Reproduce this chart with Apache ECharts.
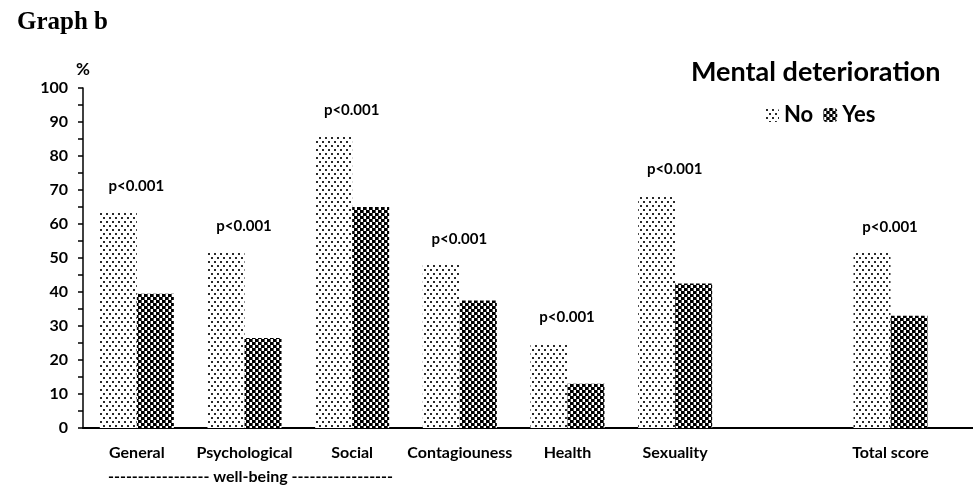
<!DOCTYPE html>
<html>
<head>
<meta charset="utf-8">
<script src="https://cdn.jsdelivr.net/npm/echarts@6/dist/echarts.min.js"></script>
<style>
  html, body { margin: 0; padding: 0; background: #fff; }
  #chart { width: 973px; height: 488px; }
</style>
</head>
<body>
<div id="chart"></div>
<script>
// categories (empty slots keep the gap before "Total score" and the axis running off the right edge)
const categories = ['General', 'Psychological', 'Social', 'Contagiouness', 'Health', 'Sexuality', '', 'Total score', ''];
const noValues = [63.5, 52, 86, 48, 25, 68.5, null, 51.5, null];
const yesValues = [39.5, 26.5, 65, 37.5, 13, 42.5, null, 33, null];
const pLabels = ['p<0.001', 'p<0.001', 'p<0.001', 'p<0.001', 'p<0.001', 'p<0.001', '', 'p<0.001', ''];

const FONT = 'Lato';

// pattern fills like the Excel ones
function dotPattern() {
  const c = document.createElement('canvas');
  c.width = 6; c.height = 8;
  const ctx = c.getContext('2d');
  ctx.fillStyle = '#fff';
  ctx.fillRect(0, 0, 6, 8);
  ctx.fillStyle = '#2a2a2a';
  ctx.fillRect(1, 1, 2, 2);
  ctx.fillRect(4, 5, 2, 2);
  return c;
}
function checkPattern() {
  const c = document.createElement('canvas');
  c.width = 6; c.height = 6;
  const ctx = c.getContext('2d');
  ctx.fillStyle = '#fff';
  ctx.fillRect(0, 0, 6, 6);
  ctx.fillStyle = '#000';
  ctx.fillRect(0, 0, 3, 3);
  ctx.fillRect(3, 3, 3, 3);
  ctx.fillStyle = '#555';
  ctx.fillRect(3, 0, 1, 3);
  ctx.fillRect(0, 3, 1, 3);
  return c;
}

const chart = echarts.init(document.getElementById('chart'));

const option = {
  animation: false,
  backgroundColor: '#fff',
  title: [
    {
      text: 'Graph b',
      left: 12, top: 5,
      textStyle: { fontFamily: 'Liberation Serif', fontWeight: 'bold', fontSize: 25, color: '#000' }
    },
    {
      text: 'Mental deterioration',
      left: 686, top: 54,
      textStyle: { fontFamily: FONT, fontWeight: 'bold', fontSize: 27, color: '#000' }
    }
  ],
  legend: {
    data: ['No', 'Yes'],
    left: 760, top: 99,
    itemWidth: 14, itemHeight: 14,
    itemGap: 10,
    textStyle: { fontFamily: FONT, fontWeight: 'bold', fontSize: 22, color: '#000' }
  },
  grid: { left: 83, top: 88, bottom: 60, width: 969, containLabel: false, outerBoundsMode: 'none' },
  xAxis: {
    type: 'category',
    data: categories,
    axisLine: { lineStyle: { color: '#000', width: 2 } },
    axisTick: { show: false },
    axisLabel: {
      interval: 0, margin: 17,
      fontFamily: FONT, fontWeight: 'bold', fontSize: 16, color: '#000'
    }
  },
  yAxis: {
    type: 'value',
    min: 0, max: 100, interval: 10,
    name: '%',
    nameGap: 10,
    nameTextStyle: { fontFamily: FONT, fontWeight: 'bold', fontSize: 17, color: '#000', align: 'center' },
    axisLine: { show: true, lineStyle: { color: '#000', width: 1.5 } },
    axisTick: { show: true, length: 5, lineStyle: { color: '#000', width: 1.5 } },
    minorTick: { show: true, splitNumber: 2, length: 5, lineStyle: { color: '#000', width: 1.5 } },
    splitLine: { show: false },
    axisLabel: { margin: 15, fontFamily: FONT, fontWeight: 'bold', fontSize: 16, color: '#000' }
  },
  series: [
    {
      name: 'No',
      type: 'bar',
      data: noValues,
      barWidth: 37,
      barGap: '0%',
      itemStyle: { color: { image: dotPattern(), repeat: 'repeat' } },
      label: {
        show: true,
        position: 'top',
        distance: 18,
        offset: [18, 0],
        formatter: p => pLabels[p.dataIndex],
        fontFamily: FONT, fontWeight: 'bold', fontSize: 15, color: '#000'
      }
    },
    {
      name: 'Yes',
      type: 'bar',
      data: yesValues,
      barWidth: 37,
      itemStyle: { color: { image: checkPattern(), repeat: 'repeat' } }
    }
  ],
  graphic: [
    {
      type: 'text',
      left: 108, top: 469,
      style: {
        text: '----------------- well-being -----------------',
        font: 'bold 16px Lato',
        fill: '#000'
      }
    }
  ]
};

chart.setOption(option);
</script>
</body>
</html>
